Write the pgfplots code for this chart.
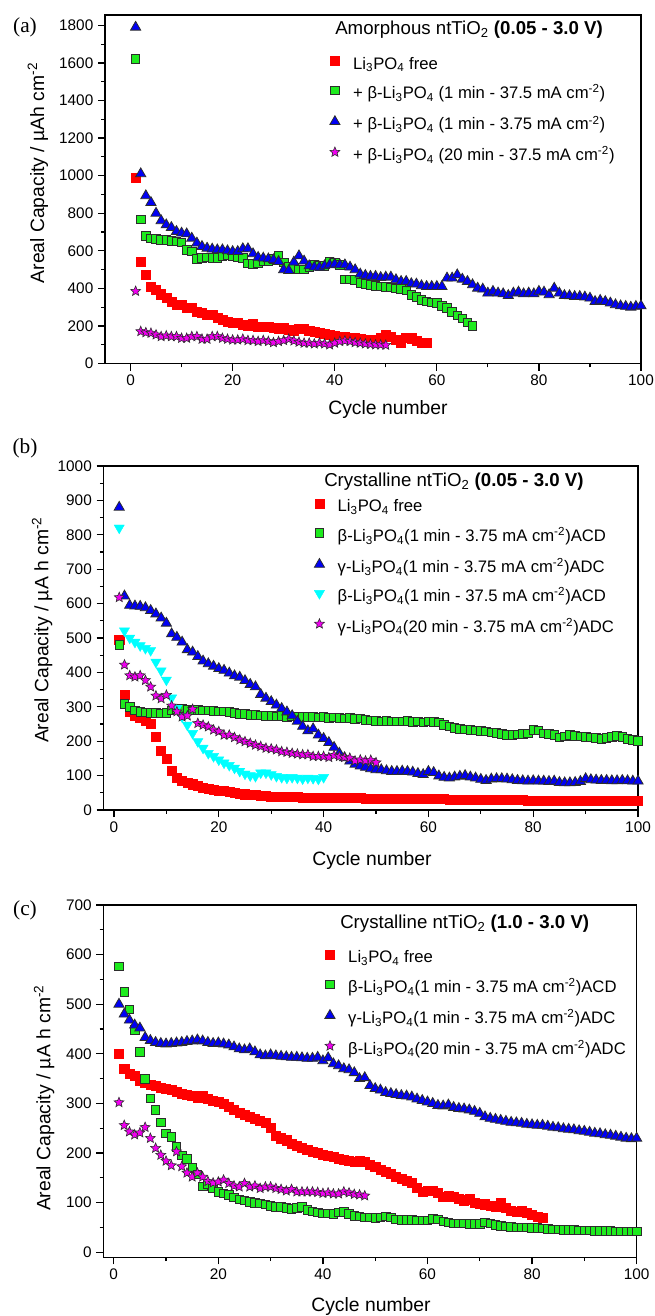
\documentclass[border=0pt]{standalone}
\usepackage{fontspec}
\setmainfont{Liberation Sans}
\newfontfamily\seriffont{Liberation Serif}
\usepackage{pgfplots}
\pgfplotsset{compat=1.18}

\definecolor{cred}{RGB}{255,0,0}
\definecolor{cgreen}{RGB}{30,235,30}
\definecolor{cblue}{RGB}{0,0,245}
\definecolor{ccyan}{RGB}{0,255,255}
\definecolor{cmag}{RGB}{240,0,240}
\definecolor{edge}{RGB}{45,45,45}

\pgfdeclareplotmark{fstar}{%
  \pgfpathmoveto{\pgfpointpolar{90}{\pgfplotmarksize}}%
  \pgfpathlineto{\pgfpointpolar{126}{0.45\pgfplotmarksize}}%
  \pgfpathlineto{\pgfpointpolar{162}{\pgfplotmarksize}}%
  \pgfpathlineto{\pgfpointpolar{198}{0.45\pgfplotmarksize}}%
  \pgfpathlineto{\pgfpointpolar{234}{\pgfplotmarksize}}%
  \pgfpathlineto{\pgfpointpolar{270}{0.45\pgfplotmarksize}}%
  \pgfpathlineto{\pgfpointpolar{306}{\pgfplotmarksize}}%
  \pgfpathlineto{\pgfpointpolar{342}{0.45\pgfplotmarksize}}%
  \pgfpathlineto{\pgfpointpolar{18}{\pgfplotmarksize}}%
  \pgfpathlineto{\pgfpointpolar{54}{0.45\pgfplotmarksize}}%
  \pgfpathclose
  \pgfusepathqfillstroke
}

\newcommand{\lipo}{Li\textsubscript{3}PO\textsubscript{4}}
\newcommand{\cmm}{cm\textsuperscript{-2}}

\pgfplotsset{
  panel/.style={
    scale only axis,
    anchor=north west,
    axis line style={line width=1.1pt},
    every tick/.style={line width=0.9pt, black},
    major tick length=5.25pt,
    minor tick length=2.8pt,
    tick align=outside,
    tick pos=left,
    xmax=100,
    xtick={0,20,...,100},
    minor x tick num=1,
    minor y tick num=1,
    tick label style={font=\fontsize{11.5}{13}\selectfont},
    /pgf/number format/assume math mode=true,
    /pgf/number format/1000 sep={},
    legend cell align=left,
    legend style={draw=none, fill=none, inner sep=0pt, outer sep=0pt, anchor=north west,
       font=\fontsize{12.5}{14}\selectfont,
       nodes={inner sep=0pt, outer sep=0pt, text height=9pt, text depth=2.5pt},
       row sep=10.25pt, column sep=7.7pt},
    legend image code/.code={\path[draw=none,fill=none] (-6pt,-3pt) rectangle (6pt,3pt); \draw[##1] plot coordinates {(0pt,3pt)};},
  },
  sred/.style={only marks, mark=square*, mark size=3.4pt, mark options={fill=cred, draw=cred, line width=0.3pt}},
  sgreen/.style={only marks, mark=square*, mark size=3.2pt, mark options={fill=cgreen, draw=edge, line width=0.6pt}},
  sblue/.style={only marks, mark=triangle*, mark size=4.4pt, mark options={fill=cblue, draw=edge, line width=0.6pt}},
  scyan/.style={only marks, mark=triangle*, mark size=4.4pt, mark options={fill=ccyan, draw=ccyan, line width=0.3pt, rotate=180}},
  smag/.style={only marks, mark=fstar, mark size=3.9pt, mark options={fill=cmag, draw=edge, line width=0.45pt}},
}

\begin{document}
\begin{tikzpicture}
% ---------------- (a) ----------------
\begin{axis}[panel, at={(78.75pt,-11.25pt)}, width=402pt, height=261.4pt,
  xmin=-5, ymin=0, ymax=1855, ytick={0,200,...,1800},
  legend style={at={(0.414,0.8815)}}]
\addplot[sred] coordinates {(1,990)(2,543)(3,472)(4,410)(5,393)(6,369)(7,348)(8,330)(9,313)(10,313)(11,295)(12,295)(13,277)(14,272)(15,260)(16,260)(17,242)(18,233)(19,224)(20,219)(21,215)(22,206)(23,203)(24,210)(25,197)(26,194)(27,197)(28,189)(29,183)(30,189)(31,180)(32,176)(33,183)(34,183)(35,176)(36,171)(37,162)(38,158)(39,153)(40,148)(41,144)(42,141)(43,139)(44,135)(45,130)(46,128)(47,125)(48,124)(49,135)(50,155)(51,145)(52,128)(53,110)(54,137)(55,135)(56,122)(57,112)(58,110)};
\addlegendentry{\lipo{} free}
\addplot[sgreen] coordinates {(1,1620)(2,768)(3,680)(4,667)(5,662)(6,658)(7,658)(8,653)(9,650)(10,644)(11,605)(12,596)(13,556)(14,561)(15,566)(16,561)(17,561)(18,573)(19,579)(20,570)(21,566)(22,561)(23,534)(24,529)(25,534)(26,543)(27,543)(28,556)(29,573)(30,538)(31,517)(32,508)(33,502)(34,502)(35,513)(36,525)(37,520)(38,520)(39,543)(40,538)(41,525)(42,449)(43,449)(44,446)(45,428)(46,424)(47,419)(48,414)(49,410)(50,407)(51,405)(52,401)(53,396)(54,389)(55,366)(56,354)(57,339)(58,330)(59,325)(60,322)(61,308)(62,295)(63,275)(64,255)(65,240)(66,220)(67,201)};
\addlegendentry{+ β-\lipo{} (1 min - 37.5 mA \cmm)}
\addplot[sblue] coordinates {(1,1790)(2,1010)(3,893)(4,857)(5,800)(6,760)(7,738)(8,724)(9,703)(10,694)(11,690)(12,667)(13,641)(14,623)(15,614)(16,609)(17,605)(18,605)(19,600)(20,596)(21,596)(22,611)(23,611)(24,584)(25,565)(26,561)(27,557)(28,552)(29,543)(30,499)(31,495)(32,540)(33,573)(34,545)(35,520)(36,513)(37,513)(38,520)(39,525)(40,529)(41,525)(42,525)(43,513)(44,499)(45,476)(46,469)(47,464)(48,464)(49,458)(50,460)(51,460)(52,446)(53,437)(54,437)(55,425)(56,423)(57,414)(58,410)(59,410)(60,410)(61,410)(62,455)(63,455)(64,472)(65,449)(66,437)(67,419)(68,401)(69,396)(70,375)(71,384)(72,375)(73,371)(74,362)(75,375)(76,380)(77,371)(78,375)(79,371)(80,384)(81,380)(82,366)(83,401)(84,375)(85,362)(86,361)(87,357)(88,357)(89,354)(90,348)(91,330)(92,336)(93,330)(94,322)(95,313)(96,307)(97,304)(98,300)(99,304)(100,307)};
\addlegendentry{+ β-\lipo{} (1 min - 3.75 mA \cmm)}
\addplot[smag] coordinates {(1,385)(2,171)(3,165)(4,162)(5,153)(6,144)(7,148)(8,144)(9,144)(10,135)(11,135)(12,144)(13,144)(14,130)(15,130)(16,144)(17,144)(18,135)(19,130)(20,126)(21,126)(22,130)(23,123)(24,123)(25,118)(26,123)(27,118)(28,112)(29,118)(30,123)(31,130)(32,121)(33,114)(34,109)(35,109)(36,105)(37,109)(38,105)(39,100)(40,109)(41,118)(42,121)(43,118)(44,112)(45,109)(46,105)(47,103)(48,100)(49,100)(50,98)};
\addlegendentry{+ β-\lipo{} (20 min - 37.5 mA \cmm)}
\end{axis}
% ---------------- (b) ----------------
\begin{axis}[panel, at={(77.625pt,-349.5pt)}, width=400.9pt, height=258pt,
  xmin=-2, ymin=0, ymax=1000, ytick={0,100,...,1000},
  legend style={at={(0.389,0.904)}}]
\addplot[sred] coordinates {(1,495)(2,335)(3,285)(4,275)(5,268)(6,260)(7,250)(8,212)(9,172)(10,148)(11,113)(12,95)(13,86)(14,80)(15,75)(16,70)(17,66)(18,62)(19,59)(20,57)(21,55)(22,52)(23,50)(24,48)(25,46)(26,45)(27,44)(28,42)(29,41)(30,40)(31,39)(32,39)(33,38)(34,38)(35,38)(36,37)(37,37)(38,37)(39,36)(40,36)(41,36)(42,36)(43,35)(44,35)(45,35)(46,35)(47,35)(48,34)(49,34)(50,34)(51,34)(52,34)(53,34)(54,33)(55,33)(56,33)(57,33)(58,33)(59,33)(60,32)(61,32)(62,32)(63,32)(64,31)(65,31)(66,31)(67,31)(68,31)(69,31)(70,30)(71,30)(72,30)(73,30)(74,29)(75,29)(76,29)(77,29)(78,29)(79,28)(80,28)(81,28)(82,28)(83,28)(84,28)(85,27)(86,27)(87,27)(88,27)(89,27)(90,27)(91,26)(92,26)(93,26)(94,26)(95,26)(96,26)(97,26)(98,26)(99,26)(100,26)};
\addlegendentry{\lipo{} free}
\addplot[sgreen] coordinates {(1,480)(2,308)(3,300)(4,290)(5,285)(6,284)(7,282)(8,283)(9,281)(10,283)(11,290)(12,293)(13,295)(14,292)(15,290)(16,291)(17,289)(18,290)(19,288)(20,287)(21,286)(22,285)(23,283)(24,280)(25,279)(26,277)(27,276)(28,275)(29,274)(30,273)(31,272)(32,273)(33,271)(34,272)(35,271)(36,270)(37,271)(38,270)(39,269)(40,270)(41,268)(42,269)(43,267)(44,266)(45,268)(46,265)(47,266)(48,262)(49,260)(50,259)(51,258)(52,259)(53,257)(54,258)(55,257)(56,259)(57,256)(58,257)(59,255)(60,258)(61,256)(62,254)(63,247)(64,243)(65,238)(66,236)(67,234)(68,233)(69,231)(70,230)(71,228)(72,226)(73,224)(74,221)(75,218)(76,219)(77,220)(78,221)(79,223)(80,233)(81,232)(82,223)(83,221)(84,218)(85,211)(86,214)(87,218)(88,216)(89,214)(90,213)(91,211)(92,210)(93,207)(94,209)(95,213)(96,216)(97,212)(98,207)(99,204)(100,201)};
\addlegendentry{β-\lipo(1 min - 3.75 mA \cmm)ACD}
\addplot[sblue] coordinates {(1,880)(2,622)(3,595)(4,593)(5,592)(6,588)(7,580)(8,570)(9,558)(10,543)(11,512)(12,502)(13,488)(14,466)(15,459)(16,446)(17,433)(18,425)(19,418)(20,411)(21,406)(22,398)(23,390)(24,386)(25,376)(26,365)(27,358)(28,336)(29,325)(30,315)(31,305)(32,295)(33,285)(34,274)(35,258)(36,243)(37,230)(38,236)(39,218)(40,208)(41,196)(42,182)(43,165)(44,152)(45,142)(46,133)(47,128)(48,124)(49,120)(50,117)(51,117)(52,114)(53,112)(54,112)(55,113)(56,112)(57,110)(58,106)(59,103)(60,112)(61,109)(62,99)(63,95)(64,93)(65,96)(66,98)(67,100)(68,96)(69,93)(70,89)(71,86)(72,90)(73,91)(74,91)(75,90)(76,88)(77,86)(78,85)(79,84)(80,85)(81,84)(82,84)(83,83)(84,84)(85,80)(86,79)(87,79)(88,80)(89,83)(90,91)(91,88)(92,87)(93,86)(94,86)(95,85)(96,85)(97,86)(98,85)(99,84)(100,84)};
\addlegendentry{γ-\lipo(1 min - 3.75 mA \cmm)ADC}
\addplot[scyan] coordinates {(1,820)(2,521)(3,500)(4,488)(5,478)(6,470)(7,464)(8,430)(9,405)(10,378)(11,326)(12,296)(13,271)(14,247)(15,223)(16,199)(17,180)(18,165)(19,156)(20,146)(21,137)(22,130)(23,122)(24,113)(25,105)(26,100)(27,98)(28,108)(29,108)(30,103)(31,98)(32,95)(33,93)(34,95)(35,93)(36,91)(37,93)(38,92)(39,90)(40,95)};
\addlegendentry{β-\lipo(1 min - 37.5 mA \cmm)ACD}
\addplot[smag] coordinates {(1,618)(2,422)(3,391)(4,387)(5,391)(6,377)(7,358)(8,332)(9,324)(10,334)(11,303)(12,286)(13,271)(14,274)(15,293)(16,252)(17,247)(18,242)(19,233)(20,228)(21,218)(22,218)(23,211)(24,204)(25,199)(26,194)(27,189)(28,185)(29,180)(30,178)(31,175)(32,170)(33,168)(34,165)(35,163)(36,161)(37,161)(38,156)(39,156)(40,156)(41,153)(42,159)(43,156)(44,153)(45,151)(46,143)(47,146)(48,143)(49,145)(50,138)};
\addlegendentry{γ-\lipo(20 min - 3.75 mA \cmm)ADC}
\end{axis}
% ---------------- (c) ----------------
\begin{axis}[panel, at={(77.475pt,-678.75pt)}, width=400pt, height=264.2pt,
  xmin=-2, ymin=-10, ymax=700, ytick={0,100,...,700},
  legend style={at={(0.41,0.872)}}]
\addplot[sred] coordinates {(1,400)(2,370)(3,360)(4,356)(5,345)(6,342)(7,337)(8,335)(9,332)(10,330)(11,327)(12,324)(13,320)(14,318)(15,316)(16,312)(17,316)(18,310)(19,306)(20,304)(21,299)(22,293)(23,287)(24,282)(25,277)(26,274)(27,270)(28,266)(29,262)(30,252)(31,235)(32,230)(33,226)(34,218)(35,214)(36,210)(37,206)(38,203)(39,200)(40,197)(41,195)(42,192)(43,188)(44,186)(45,184)(46,183)(47,185)(48,182)(49,177)(50,172)(51,167)(52,162)(53,158)(54,153)(55,148)(56,144)(57,140)(58,130)(59,122)(60,124)(61,124)(62,120)(63,112)(64,115)(65,112)(66,108)(67,105)(68,107)(69,100)(70,98)(71,97)(72,94)(73,92)(74,99)(75,89)(76,84)(77,82)(78,84)(79,80)(80,76)(81,72)(82,70)};
\addlegendentry{\lipo{} free}
\addplot[sgreen] coordinates {(1,576)(2,525)(3,490)(4,448)(5,404)(6,350)(7,310)(8,287)(9,262)(10,240)(11,233)(12,212)(13,195)(14,188)(15,170)(16,157)(17,133)(18,137)(19,129)(20,122)(21,119)(22,116)(23,111)(24,107)(25,105)(26,102)(27,100)(28,99)(29,97)(30,94)(31,92)(32,91)(33,89)(34,87)(35,89)(36,92)(37,85)(38,82)(39,80)(40,78)(41,78)(42,77)(43,80)(44,81)(45,77)(46,73)(47,72)(48,70)(49,70)(50,69)(51,70)(52,72)(53,70)(54,66)(55,65)(56,65)(57,65)(58,64)(59,64)(60,64)(61,67)(62,66)(63,62)(64,60)(65,58)(66,58)(67,58)(68,57)(69,57)(70,57)(71,60)(72,58)(73,55)(74,53)(75,52)(76,51)(77,50)(78,50)(79,50)(80,49)(81,49)(82,48)(83,47)(84,46)(85,46)(86,45)(87,45)(88,45)(89,44)(90,44)(91,44)(92,43)(93,43)(94,43)(95,43)(96,42)(97,42)(98,42)(99,42)(100,42)};
\addlegendentry{β-\lipo(1 min - 3.75 mA \cmm)ACD}
\addplot[sblue] coordinates {(1,500)(2,480)(3,468)(4,458)(5,452)(6,433)(7,427)(8,423)(9,421)(10,420)(11,421)(12,422)(13,423)(14,425)(15,426)(16,428)(17,426)(18,423)(19,421)(20,422)(21,420)(22,418)(23,414)(24,410)(25,408)(26,410)(27,404)(28,398)(29,396)(30,398)(31,396)(32,395)(33,394)(34,393)(35,393)(36,392)(37,391)(38,391)(39,393)(40,386)(41,392)(42,380)(43,376)(44,370)(45,368)(46,362)(47,350)(48,352)(49,336)(50,330)(51,327)(52,322)(53,320)(54,318)(55,316)(56,315)(57,313)(58,309)(59,306)(60,303)(61,300)(62,296)(63,295)(64,297)(65,292)(66,290)(67,289)(68,287)(69,284)(70,280)(71,273)(72,270)(73,268)(74,266)(75,264)(76,262)(77,261)(78,260)(79,258)(80,257)(81,256)(82,256)(83,254)(84,252)(85,251)(86,249)(87,248)(88,247)(89,245)(90,244)(91,242)(92,240)(93,239)(94,237)(95,236)(96,234)(97,232)(98,230)(99,229)(100,230)};
\addlegendentry{γ-\lipo(1 min - 3.75 mA \cmm)ADC}
\addplot[smag] coordinates {(1,302)(2,256)(3,243)(4,237)(5,241)(6,252)(7,230)(8,210)(9,196)(10,184)(11,175)(12,203)(13,173)(14,160)(15,152)(16,160)(17,152)(18,143)(19,140)(20,142)(21,146)(22,139)(23,134)(24,132)(25,139)(26,132)(27,134)(28,129)(29,132)(30,132)(31,129)(32,127)(33,124)(34,127)(35,122)(36,122)(37,122)(38,122)(39,121)(40,119)(41,120)(42,118)(43,118)(44,122)(45,120)(46,117)(47,116)(48,114)};
\addlegendentry{β-\lipo(20 min - 3.75 mA \cmm)ADC}
\end{axis}
% ---------------- texts ----------------
\node[anchor=base west, inner sep=0pt, font=\fontsize{14}{16}\selectfont] at (251.25pt,-26.25pt) {Amorphous ntTiO\textsubscript{2} \textbf{(0.05 - 3.0 V)}};
\node[anchor=base west, inner sep=0pt, font=\fontsize{14}{16}\selectfont] at (243pt,-364.9pt) {Crystalline ntTiO\textsubscript{2} \textbf{(0.05 - 3.0 V)}};
\node[anchor=base west, inner sep=0pt, font=\fontsize{14}{16}\selectfont] at (255pt,-696.2pt) {Crystalline ntTiO\textsubscript{2} \textbf{(1.0 - 3.0 V)}};
\node[anchor=base, inner sep=0pt, font=\seriffont\fontsize{16}{18}\selectfont] at (18.75pt,-24.2pt) {(a)};
\node[anchor=base, inner sep=0pt, font=\seriffont\fontsize{16}{18}\selectfont] at (18.75pt,-340.1pt) {(b)};
\node[anchor=base, inner sep=0pt, font=\seriffont\fontsize{16}{18}\selectfont] at (18.75pt,-686.4pt) {(c)};
\node[anchor=base, inner sep=0pt, font=\fontsize{14.5}{16}\selectfont] at (291pt,-310.5pt) {Cycle number};
\node[anchor=base, inner sep=0pt, font=\fontsize{14.5}{16}\selectfont] at (279pt,-648.75pt) {Cycle number};
\node[anchor=base, inner sep=0pt, font=\fontsize{14.5}{16}\selectfont] at (278.25pt,-983.25pt) {Cycle number};
\node[anchor=base, rotate=90, inner sep=0pt, font=\fontsize{14.5}{16}\selectfont] at (33pt,-129.75pt) {Areal Capacity / µAh \cmm};
\node[anchor=base, rotate=90, inner sep=0pt, font=\fontsize{14.5}{16}\selectfont] at (36.2pt,-472.5pt) {Areal Capacity / µA h \cmm};
\node[anchor=base, rotate=90, inner sep=0pt, font=\fontsize{14.5}{16}\selectfont] at (37.8pt,-823.5pt) {Areal Capacity / µA h \cmm};
\pgfresetboundingbox
\path[use as bounding box] (0pt,0pt) rectangle (490.5pt,-987pt);
\end{tikzpicture}
\end{document}
